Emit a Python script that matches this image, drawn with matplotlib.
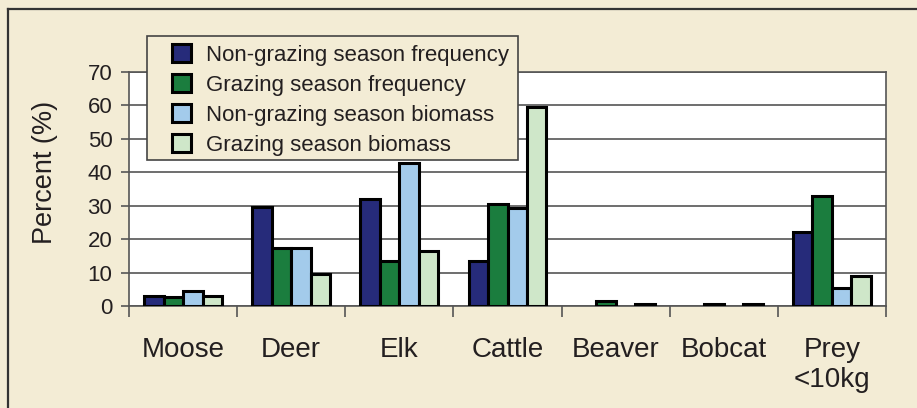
import matplotlib.pyplot as plt
import numpy as np
from matplotlib.patches import Rectangle
from matplotlib.lines import Line2D

plt.rcParams['font.family'] = ['Liberation Sans', 'DejaVu Sans']

# data
categories = ['Moose', 'Deer', 'Elk', 'Cattle', 'Beaver', 'Bobcat', 'Prey\n<10kg']
series_names = ['Non-grazing season frequency', 'Grazing season frequency',
                'Non-grazing season biomass', 'Grazing season biomass']
nongrazing_freq = [3.0, 29.5, 32.0, 13.5, 0.0, 0.0, 22.0]
grazing_freq = [2.8, 17.5, 13.5, 30.5, 1.5, 0.7, 33.0]
nongrazing_biomass = [4.6, 17.5, 42.8, 29.3, 0.0, 0.0, 5.5]
grazing_biomass = [3.0, 9.5, 16.5, 59.5, 0.7, 0.7, 9.0]
yticks = [0, 10, 20, 30, 40, 50, 60, 70]

colors = ['#262B7A', '#1B7D3E', '#A3CBEB', '#CFE7C9']
bg = '#F3ECD5'
txt = '#231F20'
grey = '#555555'

W, H = 917, 408
fig = plt.figure(figsize=(W / 100, H / 100), dpi=100, facecolor=bg)

# plot area in pixels: x 129..886, y 72..306
ax = fig.add_axes([129 / W, 1 - 306 / H, (886 - 129) / W, (306 - 72) / H])
ax.set_facecolor('white')

x = np.arange(len(categories))
bw = 0.18
all_series = [nongrazing_freq, grazing_freq, nongrazing_biomass, grazing_biomass]
for i, (vals, name) in enumerate(zip(all_series, series_names)):
    vals = np.array(vals)
    bars = ax.bar(x + (i - 1.5) * bw, vals, width=bw, color=colors[i], edgecolor='black',
                  linewidth=2.2, label=name, zorder=3)
    # zero values show nothing in the original
    for b, v in zip(bars, vals):
        if v == 0:
            b.set_visible(False)

ax.set_xlim(-0.5, len(categories) - 0.5)
ax.set_ylim(0, 70)
ax.set_yticks(yticks)
ax.set_yticklabels([str(v) for v in yticks], fontsize=16, color=txt)
ax.yaxis.grid(True, color=grey, linewidth=1.2, zorder=0)

ax.set_xticks(x)
ax.set_xticklabels(categories, fontsize=20, color=txt, linespacing=1.2)
ax.set_xticks(np.arange(-0.5, len(categories)), minor=True)
ax.tick_params(axis='x', which='major', length=0, pad=22)
ax.tick_params(axis='x', which='minor', length=8, width=1.2, color=grey, direction='out')
ax.tick_params(axis='y', length=6, width=1.2, color=grey, pad=6)

for side in ['left', 'bottom', 'right', 'top']:
    ax.spines[side].set_color(grey)
    ax.spines[side].set_linewidth(1.2)

ax.set_ylabel('Percent (%)', fontsize=19.5, color=txt)
ax.yaxis.set_label_coords((58 - 129) / 757, (306 - 172) / 234)

# legend box drawn as a patch, legend itself without frame
box = Rectangle((147 / W, 1 - 160 / H), (518 - 147) / W, (160 - 36) / H,
                transform=fig.transFigure, facecolor=bg, edgecolor='#444444',
                linewidth=1.2, zorder=5, clip_on=False)
ax.add_patch(box)
leg = ax.legend(loc='upper left', bbox_to_anchor=(172 / W, 1 - 44 / H),
                bbox_transform=fig.transFigure, frameon=False, fontsize=16,
                handlelength=0.85, handleheight=0.85, handletextpad=0.7,
                labelspacing=0.38, borderaxespad=0, borderpad=0)
leg.set_zorder(6)
for t in leg.get_texts():
    t.set_color(txt)

# outer frame lines (top and left)
fig.add_artist(Line2D([7.5 / W, 1], [1 - 9 / H, 1 - 9 / H], color='#333333', linewidth=1.6))
fig.add_artist(Line2D([7.5 / W, 7.5 / W], [0, 1 - 9 / H], color='#333333', linewidth=1.6))

fig.savefig('out.png', dpi=100, facecolor=bg)
